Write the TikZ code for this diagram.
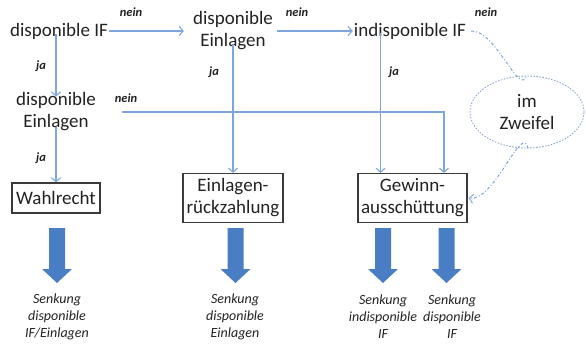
\documentclass[tikz,border=0pt]{standalone}
\usepackage{fontspec}
\setmainfont{Carlito}
\usetikzlibrary{arrows.meta,shapes.geometric}
\definecolor{lineblue}{HTML}{7FA6DC}
\definecolor{blockblue}{HTML}{4A7EC4}
\definecolor{txt}{HTML}{222222}
\definecolor{boxgray}{HTML}{3A3A3A}
\tikzset{
  main/.style={font=\fontsize{19}{22}\selectfont, text=txt, align=center, inner sep=0pt},
  decbox/.style={main, draw=boxgray, line width=1.3pt, minimum height=30pt},
  lbl/.style={font=\fontsize{12.5}{13}\selectfont\bfseries\itshape, text=txt, inner sep=0pt},
  res/.style={font=\fontsize{14}{17}\selectfont\itshape, text=txt, align=center, inner sep=0pt},
  conn/.style={draw=lineblue, line width=1.2pt, -{Straight Barb[length=4pt,width=9pt,line width=1.1pt]}},
  dashconn/.style={draw=lineblue, line width=1pt, dash pattern=on 3pt off 2pt on 1pt off 2pt},
  doubt/.style={ellipse, draw=lineblue!80!gray, line width=0.8pt, dash pattern=on 1.5pt off 1.5pt, minimum width=114pt, minimum height=72pt, main},
  barrow/.pic={\fill[blockblue] (-8,0) -- (8,0) -- (8,41) -- (15,41) -- (0,55) -- (-15,41) -- (-8,41) -- cycle;}
}
\begin{document}
\begin{tikzpicture}[x=1pt,y=-1pt]
\useasboundingbox (0,0) rectangle (586,349);
% text nodes
\node[main] (dIF) at (59,31) {disponible IF};
\node[main] (dE1) at (233,31) {disponible\\Einlagen};
\node[main] (iIF) at (410,31) {indisponible IF};
\node[main] (dE2) at (56,112) {disponible\\Einlagen};
\node[doubt] (el) at (527,112) {im\\Zweifel};
% boxes
\node[decbox, minimum width=88pt] (wr) at (56,198) {Wahlrecht};
\node[decbox, minimum width=100pt, minimum height=49pt] (er) at (233,198) {Einlagen-\\rückzahlung};
\node[decbox, minimum width=109pt, minimum height=49pt] (ga) at (412.5,198) {Gewinn-\\ausschüttung};
% labels
\node[lbl] (n1) at (131,12) {nein};
\node[lbl] (n2) at (297,12) {nein};
\node[lbl] (n3) at (486,12) {nein};
\node[lbl] (n4) at (126,98) {nein};
\node[lbl] (j1) at (41,66) {ja};
\node[lbl] (j2) at (41,158) {ja};
\node[lbl] (j3) at (214,72) {ja};
\node[lbl] (j4) at (394,72) {ja};
% connectors
\draw[conn] ([xshift=1pt]dIF.east) -- ([xshift=-9pt]dIF.east -| dE1.west);
\draw[conn] ([xshift=4pt]dE1.east |- dIF.east) -- ([xshift=-1pt]dIF.east -| iIF.west);
\draw[conn] ([yshift=5pt]dIF.south -| dE2.north) -- ([yshift=-4pt]dE2.north);
\draw[conn] ([yshift=4pt]dE2.south) -- (wr.north);
\draw[conn] ([yshift=6pt]dE1.south) -- (er.north);
\coordinate (gaL) at ([xshift=-32pt]ga.north);
\coordinate (gaR) at ([xshift=31.5pt]ga.north);
\draw[conn] ([yshift=6pt]iIF.south -| gaL) -- (gaL);
\draw[conn] ([xshift=26pt]dE2.east) -| (gaR);
\draw[dashconn] ([xshift=5pt]iIF.east) .. controls ([xshift=30pt,yshift=1pt]iIF.east) and ([xshift=-8pt,yshift=-22pt]el.north) .. (el.north);
\draw[dashconn, -{Straight Barb[length=4pt,width=9pt,line width=0.9pt]}] ([xshift=1pt]el.south) .. controls ([xshift=-5pt,yshift=27pt]el.south) and ([xshift=27pt,yshift=-4pt]ga.east) .. ([xshift=1pt]ga.east);
% block arrows
\pic at (57,228) {barrow};
\pic at (235.5,228) {barrow};
\pic at (383,228) {barrow};
\pic at (446.5,228) {barrow};
% results
\node[res] (r1) at (57,317) {Senkung\\disponible\\IF/Einlagen};
\node[res] (r2) at (235,317) {Senkung\\disponible\\Einlagen};
\node[res] (r3) at (383,317) {Senkung\\indisponible\\IF};
\node[res] (r4) at (452,317) {Senkung\\disponible\\IF};
\end{tikzpicture}
\end{document}
